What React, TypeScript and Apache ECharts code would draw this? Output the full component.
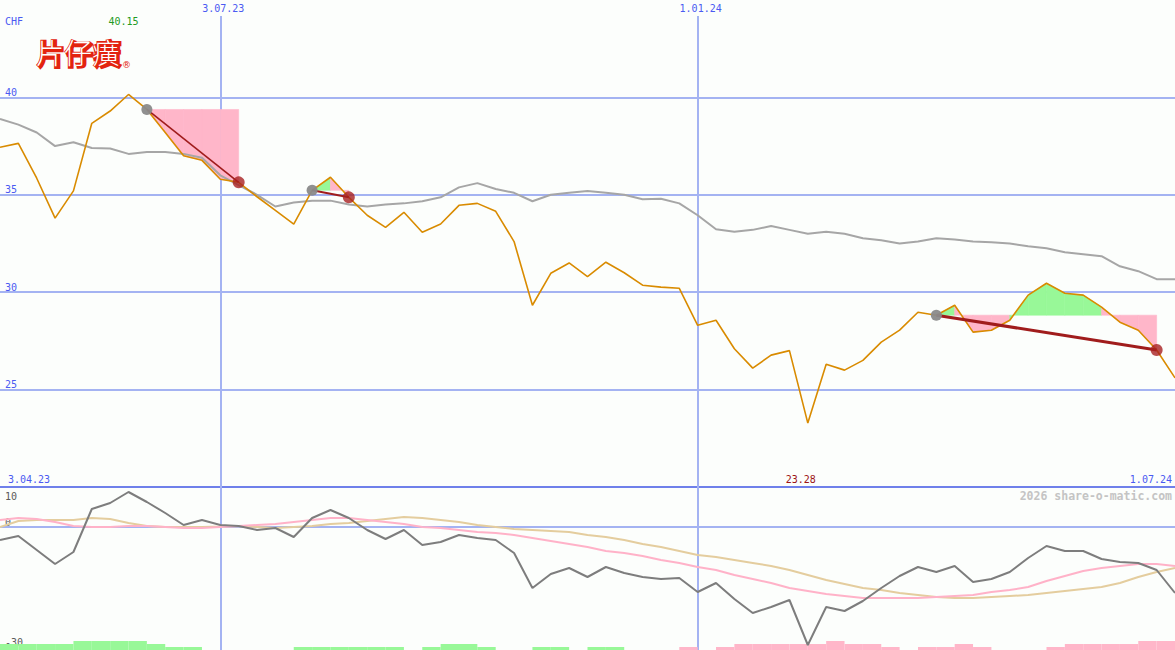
import React, { useEffect, useRef } from "react";
import * as echarts from "echarts";

// ---- data (weekly, week 1 .. 65) ----
const price = [37.44, 37.64, 35.85, 33.8, 35.2, 38.67, 39.3, 40.15, 39.38, 38.2, 37.0, 36.77, 35.8, 35.64, 34.9, 34.2, 33.5, 35.23, 35.9, 34.87, 33.95, 33.33, 34.1, 33.08, 33.5, 34.46, 34.56, 34.15, 32.6, 29.33, 30.97, 31.5, 30.8, 31.54, 31.0, 30.36, 30.26, 30.2, 28.3, 28.56, 27.1, 26.1, 26.77, 27.0, 23.28, 26.3, 26.0, 26.5, 27.44, 28.05, 28.97, 28.82, 29.33, 27.95, 28.05, 28.56, 29.85, 30.46, 29.95, 29.85, 29.23, 28.46, 28.05, 27.03, 25.6];
const avgLine = [38.9, 38.6, 38.2, 37.5, 37.7, 37.4, 37.38, 37.1, 37.2, 37.2, 37.1, 36.9, 36.0, 35.5, 35.0, 34.4, 34.6, 34.7, 34.7, 34.5, 34.4, 34.5, 34.56, 34.67, 34.87, 35.38, 35.6, 35.3, 35.1, 34.67, 35.0, 35.1, 35.2, 35.1, 35.0, 34.77, 34.8, 34.56, 33.95, 33.23, 33.1, 33.2, 33.4, 33.2, 33.0, 33.1, 33.0, 32.77, 32.67, 32.5, 32.6, 32.77, 32.7, 32.6, 32.56, 32.5, 32.36, 32.26, 32.05, 31.95, 31.85, 31.33, 31.08, 30.67, 30.67];
const momentum = [-3.25, -2.25, -5.75, -9.25, -6.25, 4.5, 6.0, 8.75, 6.25, 3.5, 0.5, 1.75, 0.5, 0.25, -0.75, -0.25, -2.5, 2.25, 4.25, 2.25, -0.75, -3.0, -0.75, -4.5, -3.75, -2.0, -2.75, -3.25, -6.5, -15.25, -11.75, -10.25, -12.5, -10.0, -11.5, -12.5, -13.0, -12.75, -16.25, -14.0, -18.0, -21.5, -20.0, -18.25, -29.5, -20.0, -21.0, -18.5, -15.25, -12.25, -10.0, -11.25, -9.75, -13.75, -13.0, -11.25, -7.75, -4.75, -6.0, -6.0, -8.0, -8.75, -9.0, -10.75, -16.5];
const signalPink = [1.75, 2.25, 2.0, 1.25, 0.25, 0, 0, 0.25, 0.25, 0, -0.25, -0.25, 0, 0.25, 0.5, 0.75, 1.25, 1.75, 2.25, 2.25, 1.75, 1.25, 0.75, 0, -0.25, -0.75, -1.25, -1.5, -2.0, -2.75, -3.5, -4.25, -5.0, -6.0, -6.5, -7.25, -8.25, -9.0, -10.0, -10.75, -12.0, -13.0, -14.0, -15.25, -16.0, -16.75, -17.25, -17.75, -17.75, -17.75, -17.75, -17.5, -17.25, -17.0, -16.25, -15.75, -15.0, -13.5, -12.25, -11.0, -10.25, -9.75, -9.25, -9.25, -9.75];
const signalTan = [0, 1.5, 1.75, 1.75, 1.75, 2.25, 2.0, 1.0, 0.25, 0, 0, 0, 0.1, 0.25, 0, -0.25, 0, 0.25, 0.75, 1.0, 1.5, 2.0, 2.5, 2.25, 1.75, 1.25, 0.5, 0, -0.5, -0.75, -1.0, -1.25, -2.0, -2.5, -3.25, -4.25, -5.0, -6.0, -7.0, -7.5, -8.25, -9.0, -9.75, -10.75, -12.0, -13.25, -14.25, -15.25, -15.75, -16.5, -17.0, -17.5, -17.75, -17.75, -17.5, -17.25, -17.0, -16.5, -16.0, -15.5, -15.0, -14.0, -12.5, -11.25, -10.25];
// histogram per week interval (week i .. i+1), + green, - pink
const histogram = [2, 2, 2, 2, 3, 3, 3, 3, 2, 1, 1, 0, 0, 0, 0, 0, 1, 1, 1, 1, 1, 1, 0, 1, 2, 2, 1, 0, 0, 1, 1, 0, 1, 1, 0, 0, 0, -1, 0, -1, -2, -2, -2, -2, -2, -3, -2, -2, -1, 0, -1, -1, -2, -1, 0, 0, 0, -1, -2, -2, -2, -2, -3, -3];
const trades = [
  { entry: 9, exit: 14, width: 1.6 },
  { entry: 18, exit: 20, width: 2 },
  { entry: 52, exit: 64, width: 3 },
];
const gridWeeks = [13, 39];
const gridLabels = ["3.07.23", "1.01.24"];
const rangeLabels = ["3.04.23", "1.07.24"];
const mainTicks = [25, 30, 35, 40];
const lowerTicksBelow = [0, -30];
const lowerTicksAbove = [10];

// ---- styles ----
const MONO = '"DejaVu Sans Mono", monospace';
const BLUE_TXT = "#4a5af2";
const GRID_BLUE = "#a4b3f2";
const SEP_BLUE = "#6f80ea";
const ORANGE = "#d98b00";
const GREY = "#a6a6a6";
const DARK_GREY = "#7d7d7d";
const PINK_LINE = "#ffb2c8";
const TAN_LINE = "#e4cd9e";
const FILL_PINK = "#ffb6c9";
const FILL_GREEN = "#98f898";
const TRADE_RED = "#a01c1c";
const LOGO_RED = "#e3230f";
const T = "rgba(0,0,0,0)";

const toPts = (arr: number[]) => arr.map((v, i) => [i + 1, v]);

export default function App() {
  const ref = useRef<HTMLDivElement>(null);
  useEffect(() => {
    document.body.style.margin = "0";
    const chart = echarts.init(ref.current!, undefined, { renderer: "svg" });

    const n = price.length;
    const maxVal = Math.max(...price);
    const minVal = Math.min(...price);
    const maxWeek = price.indexOf(maxVal) + 1;
    const minWeek = price.indexOf(minVal) + 1;

    const fillData: number[][] = [];
    trades.forEach((t) => {
      const L = price[t.entry - 1];
      for (let k = t.entry; k < t.exit; k++) {
        const a = price[k - 1];
        const b = price[k];
        fillData.push([k, k + 1, L, a, b, b >= L ? 1 : 0]);
      }
    });

    const option: any = {
      animation: false,
      backgroundColor: "#fcfefc",
      grid: [
        { left: 0, right: 0, top: 0, height: 487, outerBoundsMode: "none", containLabel: false },
        { left: 0, right: 0, top: 487, height: 200, outerBoundsMode: "none", containLabel: false },
        { left: 0, right: 0, top: 487, height: 163, outerBoundsMode: "none", containLabel: false },
      ],
      xAxis: [
        {
          gridIndex: 0,
          type: "value",
          min: 1,
          max: n,
          interval: n - 1,
          axisLine: { show: true, onZero: false, lineStyle: { color: SEP_BLUE, width: 2 } },
          axisTick: { show: false },
          splitLine: { show: false },
          axisLabel: {
            show: true,
            inside: true,
            margin: 3,
            showMinLabel: true,
            showMaxLabel: true,
            alignMinLabel: "left",
            alignMaxLabel: "right",
            padding: [0, 3, 0, 8],
            color: BLUE_TXT,
            fontFamily: MONO,
            fontSize: 10,
            formatter: (v: number) => (v === 1 ? rangeLabels[0] : v === n ? rangeLabels[1] : ""),
          },
        },
        {
          gridIndex: 1,
          type: "value",
          min: 1,
          max: n,
          show: false,
        },
        {
          gridIndex: 2,
          type: "category",
          data: histogram.map((_, i) => String(i + 1)),
          boundaryGap: true,
          show: false,
        },
      ],
      yAxis: [
        {
          gridIndex: 0,
          type: "value",
          position: "left",
          min: 20,
          max: 45,
          interval: 5,
          axisLine: { show: false },
          axisTick: { show: false },
          splitLine: {
            show: true,
            lineStyle: { width: 2, color: [T, GRID_BLUE, GRID_BLUE, GRID_BLUE, GRID_BLUE, T] },
          },
          axisLabel: {
            inside: true,
            margin: 5,
            verticalAlign: "bottom",
            color: BLUE_TXT,
            fontFamily: MONO,
            fontSize: 10,
            formatter: (v: number) => (mainTicks.includes(v) ? String(v) : ""),
          },
        },
        {
          gridIndex: 1,
          type: "value",
          position: "left",
          offset: 0,
          min: -40,
          max: 10,
          interval: 10,
          axisLine: { show: false },
          axisTick: { show: false },
          splitLine: {
            show: true,
            lineStyle: { width: 2, color: [T, T, T, T, GRID_BLUE, T] },
          },
          axisLabel: {
            inside: true,
            margin: 5,
            verticalAlign: "bottom",
            color: "#5a5a5a",
            fontFamily: MONO,
            fontSize: 10,
            formatter: (v: number) => (lowerTicksBelow.includes(v) ? String(v) : ""),
          },
        },
        {
          gridIndex: 1,
          type: "value",
          position: "left",
          offset: 0,
          min: -40,
          max: 10,
          interval: 10,
          axisLine: { show: false },
          axisTick: { show: false },
          splitLine: { show: false },
          axisLabel: {
            inside: true,
            margin: 5,
            verticalAlign: "top",
            showMaxLabel: true,
            padding: [4, 0, 0, 0],
            color: "#5a5a5a",
            fontFamily: MONO,
            fontSize: 10,
            formatter: (v: number) => (lowerTicksAbove.includes(v) ? String(v) : ""),
          },
        },
        {
          gridIndex: 2,
          type: "value",
          min: 0,
          max: 163 / 3,
          show: false,
        },
      ],
      graphic: [
        {
          type: "text",
          left: 5,
          top: 16,
          style: { text: "CHF", fill: BLUE_TXT, font: `10px ${MONO}` },
        },
        {
          type: "text",
          left: 36,
          top: 38,
          z: 10,
          style: {
            text: "片仔癀",
            font: 'bold 28px "Noto Sans CJK SC"',
            fill: LOGO_RED,
            stroke: LOGO_RED,
            lineWidth: 2.5,
          },
        },
        {
          type: "text",
          left: 36,
          top: 38,
          z: 11,
          style: {
            text: "片仔癀",
            font: '300 28px "Noto Sans CJK SC"',
            fill: "#ffffff",
          },
        },
        {
          type: "text",
          left: 122,
          top: 60,
          style: { text: "®", fill: LOGO_RED, font: '9px "DejaVu Sans"' },
        },
        {
          type: "text",
          right: 3,
          top: 490,
          style: { text: "2026 share-o-matic.com", fill: "#c4c4c4", font: `bold 11.5px ${MONO}` },
        },
      ],
      series: [
        // histogram bars
        {
          type: "bar",
          xAxisIndex: 2,
          yAxisIndex: 3,
          barWidth: "100%",
          barGap: "0%",
          barCategoryGap: "0%",
          z: 1,
          silent: true,
          data: histogram.map((v) => ({
            value: Math.abs(v),
            itemStyle: { color: v > 0 ? FILL_GREEN : FILL_PINK },
          })),
        },
        // trade fills
        {
          type: "custom",
          xAxisIndex: 0,
          yAxisIndex: 0,
          z: 2,
          silent: true,
          data: fillData,
          renderItem: (params: any, api: any) => {
            const x0 = api.value(0);
            const x1 = api.value(1);
            const L = api.value(2);
            const a = api.value(3);
            const b = api.value(4);
            const up = api.value(5);
            const color = up ? FILL_GREEN : FILL_PINK;
            return {
              type: "polygon",
              shape: {
                points: [api.coord([x0, L]), api.coord([x0, a]), api.coord([x1, b]), api.coord([x1, L])],
              },
              style: { fill: color, stroke: color, lineWidth: 0.6 },
            };
          },
        },
        // moving average (main)
        {
          type: "line",
          xAxisIndex: 0,
          yAxisIndex: 0,
          z: 3,
          data: toPts(avgLine),
          symbol: "none",
          lineStyle: { color: GREY, width: 2 },
          markLine: {
            silent: true,
            z: 1,
            symbol: ["none", "none"],
            lineStyle: { color: GRID_BLUE, width: 2, type: "solid" },
            label: {
              show: true,
              position: "start",
              distance: 2,
              formatter: "{b}",
              color: BLUE_TXT,
              fontFamily: MONO,
              fontSize: 10,
              offset: [3, 0],
            },
            data: gridWeeks.map((w, k) => [
              { name: gridLabels[k], coord: [w, 44.18] },
              { coord: [w, 20] },
            ]),
          },
        },
        // price
        {
          type: "line",
          xAxisIndex: 0,
          yAxisIndex: 0,
          z: 4,
          data: toPts(price),
          symbol: "none",
          lineStyle: { color: ORANGE, width: 1.6 },
          markPoint: {
            symbol: "circle",
            symbolSize: 0,
            silent: true,
            label: {
              show: true,
              position: "inside",
              fontFamily: MONO,
              fontSize: 10,
              formatter: (p: any) => Number(p.value).toFixed(2),
            },
            data: [
              { coord: [maxWeek, 43.92], value: maxVal, label: { color: "#229a22", offset: [-5, 0] } },
              { coord: [minWeek, 20.4], value: minVal, label: { color: "#9c1414", offset: [-7, 0] } },
            ],
          },
        },
        // trade lines
        ...trades.map((t) => ({
          type: "line",
          xAxisIndex: 0,
          yAxisIndex: 0,
          z: 5,
          symbol: "none",
          data: [
            [t.entry, price[t.entry - 1]],
            [t.exit, price[t.exit - 1]],
          ],
          lineStyle: { color: TRADE_RED, width: t.width },
        })),
        // entry dots
        {
          type: "scatter",
          xAxisIndex: 0,
          yAxisIndex: 0,
          z: 6,
          symbolSize: 11,
          silent: true,
          itemStyle: { color: "#8a8a8a", opacity: 0.95 },
          data: trades.map((t) => [t.entry, price[t.entry - 1]]),
        },
        // exit dots
        {
          type: "scatter",
          xAxisIndex: 0,
          yAxisIndex: 0,
          z: 6,
          symbolSize: 12,
          silent: true,
          itemStyle: { color: "#a82020" },
          data: trades.map((t) => [t.exit, price[t.exit - 1]]),
        },
        // lower panel lines
        {
          type: "line",
          xAxisIndex: 1,
          yAxisIndex: 1,
          z: 3,
          data: toPts(signalTan),
          symbol: "none",
          lineStyle: { color: TAN_LINE, width: 2 },
        },
        {
          type: "line",
          xAxisIndex: 1,
          yAxisIndex: 1,
          z: 3,
          data: toPts(signalPink),
          symbol: "none",
          lineStyle: { color: PINK_LINE, width: 2 },
        },
        {
          type: "line",
          xAxisIndex: 1,
          yAxisIndex: 1,
          z: 4,
          data: toPts(momentum),
          symbol: "none",
          lineStyle: { color: DARK_GREY, width: 2 },
          markLine: {
            silent: true,
            z: 1,
            symbol: ["none", "none"],
            lineStyle: { color: GRID_BLUE, width: 2, type: "solid" },
            label: { show: false },
            data: gridWeeks.map((w) => [{ coord: [w, 10] }, { coord: [w, -40] }]),
          },
        },
      ],
    };

    chart.setOption(option);
    return () => chart.dispose();
  }, []);

  return <div ref={ref} style={{ width: 1175, height: 650 }} />;
}
